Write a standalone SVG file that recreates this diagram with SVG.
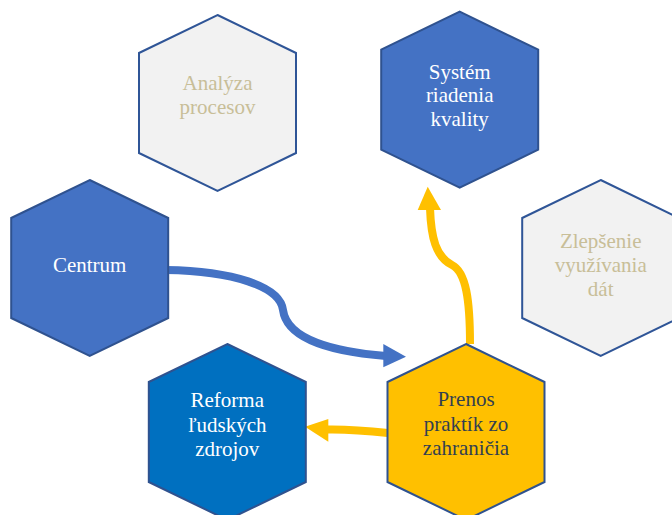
<svg xmlns="http://www.w3.org/2000/svg" width="672" height="515" viewBox="0 0 672 515">
<style>
.hex{stroke:#2F5597;stroke-width:2;stroke-linejoin:miter}
.grey{fill:#F2F2F2}
.blue{fill:#4472C4;stroke:#2F528F}
.dblue{fill:#0070C0;stroke:#2F528F}
.gold{fill:#FFC000;stroke:#2F528F}
.lbl{font-size:21px;text-anchor:middle}
.tg{fill:#C8BE98}
.tw{fill:#FFFFFF}
.td{fill:#333F50}
.cb{fill:none;stroke:#4472C4;stroke-width:8}
.cy{fill:none;stroke:#FFC000;stroke-width:8}
</style>
<rect width="672" height="515" fill="#FFFFFF"/>
<g id="connectors">
<path class="cb" d="M166,270 C232,271 280,286 283,310 C287,340 335,352 386,356"/>
<polygon fill="#4472C4" points="406,356.7 383.3,344 383.3,367.3"/>
<path class="cy" d="M470,344 C470,300 466,272 452,265 C436,257 431,238 430,208"/>
<polygon fill="#FFC000" points="427.7,186.7 417.7,210 441,210"/>
<path class="cy" d="M388,433 C370,431 350,429 326,429.5"/>
<polygon fill="#FFC000" points="305,426.7 328.3,419 328.3,441.7"/>
</g>
<g font-family="Liberation Serif, DejaVu Serif, serif">
<g id="analyza">
<polygon class="hex grey" points="217.5,15 296,53 296,153 217.5,191 139,153 139,53"/>
<text class="lbl tg" x="217.5" y="89.5">Analýza</text>
<text class="lbl tg" x="217.5" y="113.5">procesov</text>
</g>
<g id="system">
<polygon class="hex blue" points="459.7,11.7 538.2,49.7 538.2,149.7 459.7,187.7 381.2,149.7 381.2,49.7"/>
<text class="lbl tw" x="459.7" y="78.5">Systém</text>
<text class="lbl tw" x="459.7" y="102">riadenia</text>
<text class="lbl tw" x="459.7" y="125.5">kvality</text>
</g>
<g id="centrum">
<polygon class="hex blue" points="89.7,180 168.2,218 168.2,318 89.7,356 11.2,318 11.2,218"/>
<text class="lbl tw" x="89.7" y="272">Centrum</text>
</g>
<g id="zlepsenie">
<polygon class="hex grey" points="600.7,180 679.2,218 679.2,318 600.7,356 522.2,318 522.2,218"/>
<text class="lbl tg" x="600.7" y="247.5">Zlepšenie</text>
<text class="lbl tg" x="600.7" y="271.5">využívania</text>
<text class="lbl tg" x="600.7" y="296">dát</text>
</g>
<g id="reforma">
<polygon class="hex dblue" points="227.3,344 305.8,382 305.8,482 227.3,520 148.8,482 148.8,382"/>
<text class="lbl tw" x="227.3" y="407">Reforma</text>
<text class="lbl tw" x="227.3" y="431.5">ľudských</text>
<text class="lbl tw" x="227.3" y="456">zdrojov</text>
</g>
<g id="prenos">
<polygon class="hex gold" points="466,344 544.5,382 544.5,482 466,520 387.5,482 387.5,382"/>
<text class="lbl td" x="466" y="406">Prenos</text>
<text class="lbl td" x="466" y="430.5">praktík zo</text>
<text class="lbl td" x="466" y="455">zahraničia</text>
</g>
</g>
</svg>
